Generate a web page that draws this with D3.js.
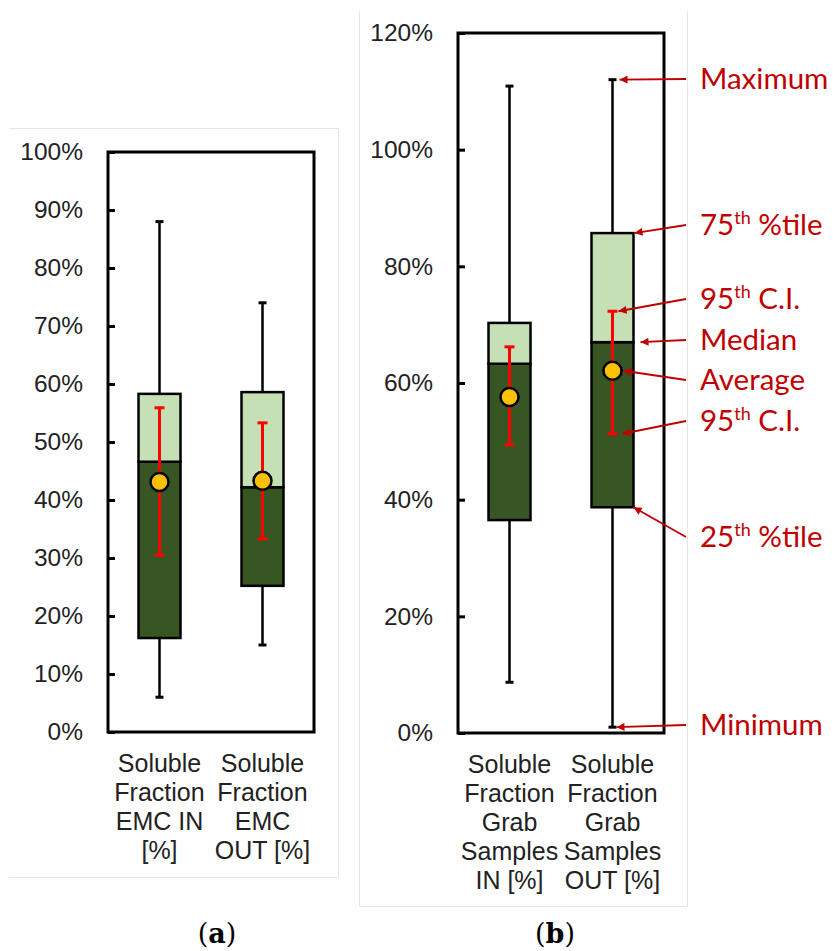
<!DOCTYPE html>
<html>
<head>
<meta charset="utf-8">
<script src="https://cdn.jsdelivr.net/npm/d3@7"></script>
<style>
body { margin: 0; background: #fff; }
</style>
</head>
<body>
<div id="chart"></div>
<script>
// ---- panel (a): EMC ----
var catsA = [["Soluble", "Fraction", "EMC IN", "[%]"], ["Soluble", "Fraction", "EMC", "OUT [%]"]];
var maxA  = [88.0, 74.0];
var q3A   = [58.3, 58.6];
var medA  = [46.6, 42.2];
var q1A   = [16.2, 25.2];
var minA  = [6.0, 15.0];
var meanA = [43.1, 43.3];
var ciHiA = [55.9, 53.3];
var ciLoA = [30.5, 33.3];
var ticksA = [0, 10, 20, 30, 40, 50, 60, 70, 80, 90, 100];

// ---- panel (b): grab samples ----
var catsB = [["Soluble", "Fraction", "Grab", "Samples", "IN [%]"], ["Soluble", "Fraction", "Grab", "Samples", "OUT [%]"]];
var maxB  = [110.9, 112.0];
var q3B   = [70.3, 85.7];
var medB  = [63.3, 67.0];
var q1B   = [36.5, 38.7];
var minB  = [8.7, 1.0];
var meanB = [57.6, 62.1];
var ciHiB = [66.2, 72.3];
var ciLoB = [49.4, 51.3];
var ticksB = [0, 20, 40, 60, 80, 100, 120];

// ---- legend annotations (point at the OUT box of panel b) ----
var annMain = ["Maximum", "75", "95", "Median", "Average", "95", "25", "Minimum"];
var annSup  = ["", "th", "th", "", "", "th", "th", ""];
var annTail = ["", " %tile", " C.I.", "", "", " C.I.", " %tile", ""];
var annKey  = ["max", "q3", "ciHi", "med", "mean", "ciLo", "q1", "min"];

var W = 834, H = 951;
var darkGreen = "#375623", lightGreen = "#C5E0B4", gold = "#FFC000", red = "#FF0000", annRed = "#C00000";
var sans = "'Liberation Sans', Arial, sans-serif";

var svg = d3.select("#chart").append("svg")
    .attr("width", W)
    .attr("height", H)
    .style("background", "#fff");

svg.append("defs").append("marker")
    .attr("id", "arrow")
    .attr("viewBox", "0 0 10 10")
    .attr("refX", 10).attr("refY", 5)
    .attr("markerWidth", 11).attr("markerHeight", 8)
    .attr("markerUnits", "userSpaceOnUse")
    .attr("orient", "auto")
  .append("path")
    .attr("d", "M0,0L10,5L0,10Z")
    .attr("fill", annRed);

// faint frames of the two sub-figures
var frame = svg.append("g").attr("stroke", "#e6e6e6").attr("stroke-width", 1).attr("fill", "none");
frame.append("path").attr("d", "M9,128.5H338.5V877.5H9");
frame.append("path").attr("d", "M359.5,11V906.5H687.5V11");

function drawPanel(p) {
  var g = svg.append("g").attr("transform", "translate(" + p.left + "," + p.top + ")");

  var x = d3.scalePoint().domain(d3.range(p.cats.length)).range([0, p.width]).padding(0.5);
  var y = d3.scaleLinear().domain([0, p.yMax]).range([p.height, 0]);

  var axis = g.append("g")
      .call(d3.axisLeft(y).tickValues(p.ticks).tickSize(-7).tickPadding(25).tickFormat(function(d) { return d + "%"; }));
  axis.select(".domain").remove();
  axis.selectAll(".tick line").attr("stroke", "#000").attr("stroke-width", 3);
  axis.selectAll(".tick text")
      .attr("fill", "#222")
      .style("font-family", sans)
      .style("font-size", "24.5px");

  var bw = 42;
  var rows = p.cats.map(function(c, i) {
    return {i: i, max: p.max[i], q3: p.q3[i], med: p.med[i], q1: p.q1[i], min: p.min[i],
            mean: p.mean[i], ciHi: p.ciHi[i], ciLo: p.ciLo[i]};
  });

  var box = g.selectAll(".box").data(rows).enter().append("g")
      .attr("class", "box")
      .attr("transform", function(d) { return "translate(" + x(d.i) + ",0)"; });

  // whisker + caps
  box.append("line")
      .attr("y1", function(d) { return y(d.min); })
      .attr("y2", function(d) { return y(d.max); })
      .attr("stroke", "#000").attr("stroke-width", 2.5);
  ["min", "max"].forEach(function(k) {
    box.append("line")
        .attr("x1", -4).attr("x2", 4)
        .attr("y1", function(d) { return y(d[k]); })
        .attr("y2", function(d) { return y(d[k]); })
        .attr("stroke", "#000").attr("stroke-width", 3);
  });

  // boxes
  box.append("rect")
      .attr("x", -bw / 2).attr("width", bw)
      .attr("y", function(d) { return y(d.med); })
      .attr("height", function(d) { return y(d.q1) - y(d.med); })
      .attr("fill", darkGreen).attr("stroke", "#000").attr("stroke-width", 2.5);
  box.append("rect")
      .attr("x", -bw / 2).attr("width", bw)
      .attr("y", function(d) { return y(d.q3); })
      .attr("height", function(d) { return y(d.med) - y(d.q3); })
      .attr("fill", lightGreen).attr("stroke", "#000").attr("stroke-width", 2.5);

  // confidence interval
  box.append("line")
      .attr("y1", function(d) { return y(d.ciLo); })
      .attr("y2", function(d) { return y(d.ciHi); })
      .attr("stroke", red).attr("stroke-width", 3);
  ["ciLo", "ciHi"].forEach(function(k) {
    box.append("line")
        .attr("x1", -5).attr("x2", 5)
        .attr("y1", function(d) { return y(d[k]); })
        .attr("y2", function(d) { return y(d[k]); })
        .attr("stroke", red).attr("stroke-width", 3);
  });

  // mean
  box.append("circle")
      .attr("cy", function(d) { return y(d.mean); })
      .attr("r", 9)
      .attr("fill", gold).attr("stroke", "#000").attr("stroke-width", 2.5);

  // plot frame
  g.append("rect")
      .attr("width", p.width).attr("height", p.height)
      .attr("fill", "none").attr("stroke", "#000").attr("stroke-width", 3);

  // category labels
  var lab = g.selectAll(".cat").data(p.cats).enter().append("text")
      .attr("class", "cat")
      .attr("text-anchor", "middle")
      .attr("fill", "#222")
      .style("font-family", sans)
      .style("font-size", "25px");
  lab.each(function(lines, i) {
    d3.select(this).selectAll("tspan").data(lines).enter().append("tspan")
        .attr("x", x(i))
        .attr("y", function(l, j) { return p.height + 40 + j * 29; })
        .text(function(l) { return l; });
  });

  // caption (a) / (b)
  var cap = svg.append("text")
      .attr("x", p.capX).attr("y", 943)
      .attr("text-anchor", "middle")
      .style("font-family", "'DejaVu Serif', serif")
      .style("font-size", "27px")
      .attr("fill", "#000");
  cap.append("tspan").text("(");
  cap.append("tspan").attr("font-weight", "bold").text(p.letter);
  cap.append("tspan").text(")");

  return {g: g, x: x, y: y, rows: rows, bw: bw, left: p.left, top: p.top};
}

drawPanel({left: 108, top: 152, width: 206, height: 580, yMax: 100, ticks: ticksA,
           cats: catsA, max: maxA, q3: q3A, med: medA, q1: q1A, min: minA,
           mean: meanA, ciHi: ciHiA, ciLo: ciLoA, capX: 217, letter: "a"});

var pb = drawPanel({left: 458, top: 33, width: 206, height: 700, yMax: 120, ticks: ticksB,
           cats: catsB, max: maxB, q3: q3B, med: medB, q1: q1B, min: minB,
           mean: meanB, ciHi: ciHiB, ciLo: ciLoB, capX: 555, letter: "b"});

// annotations: text baselines and arrow tip offsets are layout only
var annBase = [89, 235, 309, 350, 390, 431, 547, 735];
var tipDx = {max: 7, q3: pb.bw / 2 + 1, ciHi: 6, med: pb.bw / 2 + 7, mean: 11, ciLo: 10, q1: pb.bw / 2, min: 4};
var out = pb.rows[1];
var ann = svg.append("g");
annMain.forEach(function(m, i) {
  var k = annKey[i];
  var tx = pb.left + pb.x(1) + tipDx[k];
  var ty = pb.top + pb.y(out[k]);
  ann.append("line")
      .attr("x1", 686).attr("y1", annBase[i] - 10)
      .attr("x2", tx).attr("y2", ty)
      .attr("stroke", annRed).attr("stroke-width", 1.8)
      .attr("marker-end", "url(#arrow)");
  var t = ann.append("text")
      .attr("x", 700).attr("y", annBase[i])
      .attr("fill", annRed)
      .style("font-family", "Lato, 'Open Sans', sans-serif")
      .style("font-size", "29.5px");
  t.append("tspan").text(m);
  if (annSup[i]) {
    t.append("tspan").attr("dy", -11).style("font-size", "18px").text(annSup[i]);
    t.append("tspan").attr("dy", 11).text(annTail[i]);
  }
});
</script>
</body>
</html>
